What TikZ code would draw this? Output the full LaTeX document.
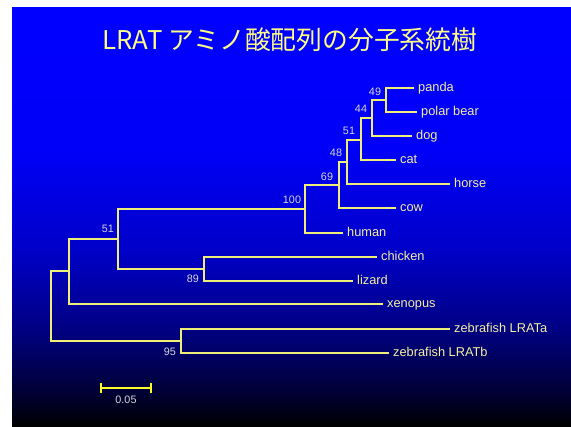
\documentclass[tikz,border=0pt]{standalone}
\usepackage{fontspec}
\setmainfont{Liberation Sans}
\newfontfamily\jpfont{Noto Sans CJK JP}
\definecolor{bgA}{RGB}{0,0,55}
\definecolor{bgB}{RGB}{0,0,130}
\definecolor{bgC}{RGB}{0,0,200}
\definecolor{bgD}{RGB}{0,0,248}
\definecolor{bgTop}{RGB}{0,0,255}
\definecolor{linecol}{RGB}{238,238,120}
\definecolor{barcol}{RGB}{250,250,40}
\definecolor{leafcol}{RGB}{245,240,160}
\definecolor{numcol}{RGB}{215,215,215}
\definecolor{titlecol}{RGB}{252,252,135}
\pgfdeclareverticalshading{bgshade}{100bp}{color(0bp)=(black); color(25bp)=(black); color(29.4bp)=(bgA); color(36.6bp)=(bgB); color(46.1bp)=(bgC); color(58.1bp)=(bgD); color(75bp)=(bgTop); color(100bp)=(bgTop)}
\tikzset{
  branch/.style={draw=linecol, line width=1.8pt},
  leaf/.style={anchor=west, inner xsep=4pt, inner ysep=0pt, text height=8.8pt, text depth=2.6pt, text=leafcol, font=\fontsize{12.8}{14}\selectfont},
  boot/.style={inner sep=0pt, text=numcol, font=\fontsize{10.8}{12}\selectfont},
  scalebar/.style={draw=barcol, line width=1.6pt},
  titletext/.style={inner sep=0pt, text=titlecol, font=\jpfont\fontsize{25.8}{30}\selectfont}
}
\begin{document}
\begin{tikzpicture}[x=1pt,y=-1pt]
\fill[white] (0,0) rectangle (571,427);
\useasboundingbox (0,0) rectangle (571,427);
\shade[shading=bgshade] (12,8) rectangle (571,427);

% title
\node[titletext] (title) at (290,40) {LRAT アミノ酸配列の分子系統樹};

% internal nodes
\coordinate (n1) at (386,100);
\coordinate (n2) at (372,118);
\coordinate (n3) at (361,140);
\coordinate (n4) at (347,162);
\coordinate (n5) at (339,185);
\coordinate (n6) at (305,209);
\coordinate (n7) at (204,269);
\coordinate (n8) at (118,239);
\coordinate (n9) at (69,271);
\coordinate (n10) at (181,341);
\coordinate (root) at (51,306);

% leaves
\node[leaf] (panda) at (414,88) {panda};
\node[leaf] (polar) at (417,112) {polar bear};
\node[leaf] (dog) at (412,136) {dog};
\node[leaf] (cat) at (396,160) {cat};
\node[leaf] (horse) at (450,184) {horse};
\node[leaf] (cow) at (396,208) {cow};
\node[leaf] (human) at (343,233) {human};
\node[leaf] (chicken) at (377,257) {chicken};
\node[leaf] (lizard) at (353,281) {lizard};
\node[leaf] (xenopus) at (383,304) {xenopus};
\node[leaf] (zfa) at (450,329) {zebrafish LRATa};
\node[leaf] (zfb) at (389,353) {zebrafish LRATb};

% branches
\draw[branch] (n1) |- (panda);
\draw[branch] (n1) |- (polar);
\draw[branch] (n2) |- (n1);
\draw[branch] (n2) |- (dog);
\draw[branch] (n3) |- (n2);
\draw[branch] (n3) |- (cat);
\draw[branch] (n4) |- (n3);
\draw[branch] (n4) |- (horse);
\draw[branch] (n5) |- (n4);
\draw[branch] (n5) |- (cow);
\draw[branch] (n6) |- (n5);
\draw[branch] (n6) |- (human);
\draw[branch] (n7) |- (chicken);
\draw[branch] (n7) |- (lizard);
\draw[branch] (n8) |- (n6);
\draw[branch] (n8) |- (n7);
\draw[branch] (n9) |- (n8);
\draw[branch] (n9) |- (xenopus);
\draw[branch] (n10) |- (zfa);
\draw[branch] (n10) |- (zfb);
\draw[branch] (root) |- (n9);
\draw[branch] (root) |- (n10);

% bootstrap values
\node[boot] (b49) at (375,92) {49};
\node[boot] (b44) at (361,109) {44};
\node[boot] (b51a) at (349,131) {51};
\node[boot] (b48) at (336,153) {48};
\node[boot] (b69) at (327,177) {69};
\node[boot] (b100) at (292,200) {100};
\node[boot] (b51b) at (108,229) {51};
\node[boot] (b89) at (193,279) {89};
\node[boot] (b95) at (170,352) {95};

% scale bar
\coordinate (sbL) at (101,388);
\coordinate (sbR) at (151,388);
\draw[scalebar] (sbL) -- (sbR);
\draw[scalebar] ([yshift=5pt]sbL) -- ([yshift=-5pt]sbL);
\draw[scalebar] ([yshift=5pt]sbR) -- ([yshift=-5pt]sbR);
\node[boot] (sblab) at (126,400) {0.05};
\end{tikzpicture}
\end{document}
